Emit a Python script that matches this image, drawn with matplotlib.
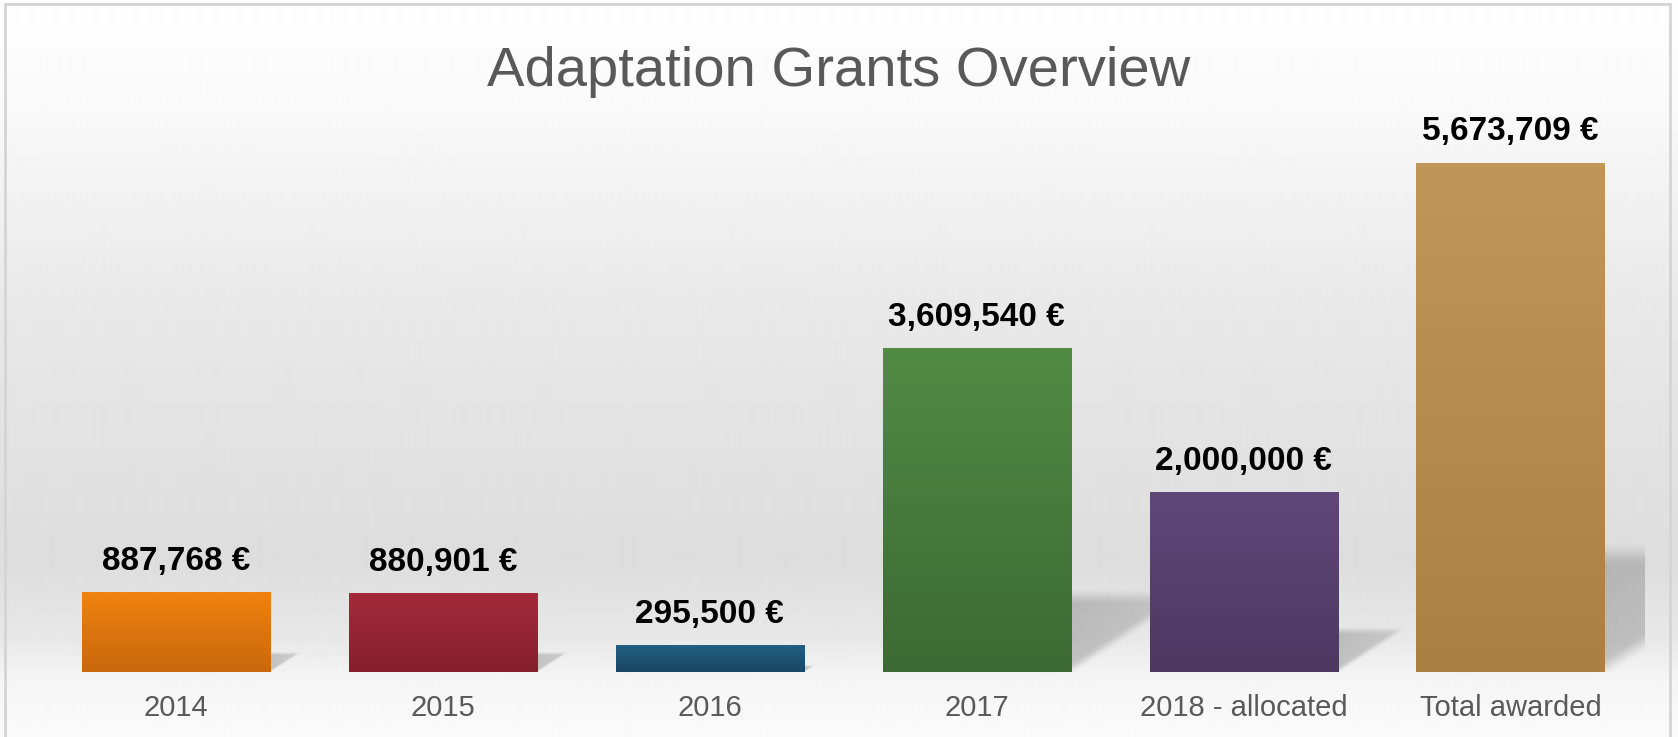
import numpy as np
import matplotlib
matplotlib.use("Agg")
import matplotlib.pyplot as plt
from matplotlib.patches import Rectangle
from matplotlib.colors import to_rgb

# chart data
categories = ["2014", "2015", "2016", "2017", "2018 - allocated", "Total awarded"]
amounts = [887768, 880901, 295500, 3609540, 2000000, 5673709]
top_colors = ["#f0820f", "#a42a39", "#225f82", "#508b43", "#604779", "#c19659"]
bottom_colors = ["#c9680d", "#85202c", "#1a4663", "#3d6a34", "#4c3861", "#ab8143"]

plt.rcParams["font.family"] = ["Liberation Sans", "DejaVu Sans"]

W, H = 1678, 737
fig = plt.figure(figsize=(W / 100, H / 100), dpi=100)

# background: soft vertical grey gradient
bg = fig.add_axes([0, 0, 1, 1], zorder=-10)
rows = np.array([0, 100, 200, 300, 450, 560, 640, 680, 737])
levels = np.array([254, 250, 241, 233, 226, 221, 232, 245, 250]) / 255
g = np.interp(np.arange(H), rows, levels)
bg.imshow(np.repeat(g[:, None], 4, axis=1), cmap="gray", vmin=0, vmax=1,
          aspect="auto", extent=[0, 1, 0, 1], interpolation="bilinear")
bg.set_xlim(0, 1)
bg.set_ylim(0, 1)
bg.axis("off")

# outer frame
fig.patches.append(Rectangle((5 / W, -0.05), 1665 / W, 1.05 - 4 / H,
                             transform=fig.transFigure, fill=False,
                             edgecolor="#d4d4d4", linewidth=2))

ax = fig.add_axes([42.5 / W, 65 / H, 1601.5 / W, 0.7918])
ax.set_xlim(-0.5, len(categories) - 0.5)
ax.set_ylim(0, 6.5e6)
ax.patch.set_alpha(0)
for s in ax.spines.values():
    s.set_visible(False)
ax.set_yticks([])

width = 0.705
bars = ax.bar(range(len(categories)), amounts, width=width, color=top_colors,
              zorder=3)

# vertical gradient on each bar
for b, c1, c2 in zip(bars, top_colors, bottom_colors):
    x0, y0 = b.get_x(), b.get_y()
    x1, y1 = x0 + b.get_width(), y0 + b.get_height()
    t = np.linspace(0, 1, 64)[:, None]
    grad = (1 - t) * np.array(to_rgb(c1)) + t * np.array(to_rgb(c2))
    im = ax.imshow(grad[:, None, :].repeat(2, axis=1), extent=[x0, x1, y0, y1],
                   aspect="auto", zorder=4, interpolation="bilinear")
    im.set_clip_path(b)

# soft perspective shadows behind the bars
shadow_ratio = 0.24
slope = 5.17e-7  # category units per value unit
for b in bars:
    R = b.get_x() + b.get_width()
    hs = b.get_height() * shadow_ratio
    span = hs * slope
    nx, ny = 160, 120
    xs = np.linspace(R, R + span * 1.1, nx)
    ys = np.linspace(0, hs * 1.25, ny)
    X, Y = np.meshgrid(xs, ys)
    y_low = (X - R) / span * hs
    soft = hs * 0.18 + 1
    a_low = np.clip((Y - y_low) / soft + 0.3, 0, 1)
    a_top = np.clip((hs * 1.08 - Y) / (hs * 0.22 + 1), 0, 1)
    a_low = a_low * a_low * (3 - 2 * a_low)
    a_top = a_top * a_top * (3 - 2 * a_top)
    fade = 1 - 0.3 * (X - R) / span
    alpha = np.clip(a_low * a_top * fade, 0, 1) * 0.26
    rgba = np.zeros((ny, nx, 4))
    rgba[..., :3] = 0.25
    rgba[..., 3] = alpha
    ax.imshow(rgba, extent=[R, R + span * 1.1, 0, hs * 1.25], origin="lower",
              aspect="auto", zorder=2, interpolation="bilinear")

ax.set_xlim(-0.5, len(categories) - 0.5)
ax.set_ylim(0, 6.5e6)

# value labels
for b, v in zip(bars, amounts):
    ax.annotate(f"{v:,} €", (b.get_x() + b.get_width() / 2, v),
                xytext=(0, 16), textcoords="offset points", ha="center",
                va="baseline", fontsize=24, fontweight="bold", color="black",
                zorder=6)

ax.set_xticks(range(len(categories)))
ax.set_xticklabels(categories, fontsize=21, color="#595959")
ax.tick_params(axis="x", length=0, pad=16)

fig.text(0.5, 1 - 86 / H, "Adaptation Grants Overview", ha="center",
         va="baseline", fontsize=40.5, color="#595959")

fig.savefig("out.png", dpi=100)
